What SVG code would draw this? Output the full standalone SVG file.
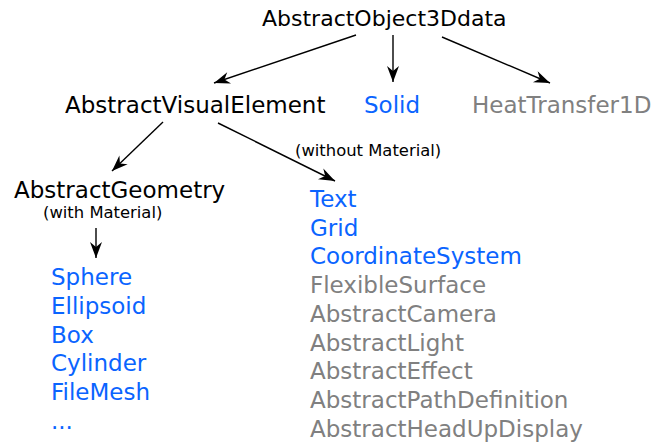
<svg xmlns="http://www.w3.org/2000/svg" width="661" height="447" viewBox="0 0 661 447">
<defs>
<style>
text{font-family:"DejaVu Sans",sans-serif;}
.top{font-size:22px;fill:#000;}
.big{font-size:23px;fill:#000;}
.blue{font-size:23px;fill:#0a64ff;}
.gray{font-size:23px;fill:#808080;}
.small{font-size:16.4px;fill:#000;}
.edge{stroke:#000;stroke-width:1.4;fill:none;marker-end:url(#arr);}
</style>
<marker id="arr" markerUnits="userSpaceOnUse" markerWidth="20" markerHeight="14" viewBox="-16 -7 18 14" refX="0" refY="0" orient="auto">
<path d="M0,0 L-16,-6 L-11,0 L-16,6 Z" fill="#000"/>
</marker>
</defs>
<rect width="661" height="447" fill="#fff"/>
<g id="connectors">
<line class="edge" x1="356" y1="35" x2="214" y2="83"/>
<line class="edge" x1="393" y1="35" x2="393" y2="82"/>
<line class="edge" x1="442" y1="37" x2="550" y2="83"/>
<line class="edge" x1="163" y1="122" x2="112" y2="171"/>
<line class="edge" x1="218" y1="123" x2="335" y2="181"/>
<line class="edge" x1="96" y1="228" x2="96" y2="258"/>
</g>
<g id="AbstractObject3Ddata"><text class="top" x="262" y="26">AbstractObject3Ddata</text></g>
<g id="AbstractVisualElement"><text class="big" x="65" y="113">AbstractVisualElement</text></g>
<g id="Solid"><text class="blue" x="364" y="113">Solid</text></g>
<g id="HeatTransfer1D"><text class="gray" x="472" y="113">HeatTransfer1D</text></g>
<g id="AbstractGeometry">
<text class="big" x="14" y="198">AbstractGeometry</text>
<text class="small" x="43" y="218">(with Material)</text>
</g>
<g id="withoutMaterial"><text class="small" x="295" y="156">(without Material)</text></g>
<g id="geometryList">
<text class="blue" x="51" y="285">Sphere</text>
<text class="blue" x="51" y="313.75">Ellipsoid</text>
<text class="blue" x="51" y="342.5">Box</text>
<text class="blue" x="51" y="371.25">Cylinder</text>
<text class="blue" x="51" y="400">FileMesh</text>
<text class="blue" x="51" y="428.75">...</text>
</g>
<g id="visualList">
<text class="blue" x="310" y="207">Text</text>
<text class="blue" x="310" y="235.7">Grid</text>
<text class="blue" x="310" y="264.4">CoordinateSystem</text>
<text class="gray" x="310" y="293.1">FlexibleSurface</text>
<text class="gray" x="310" y="321.8">AbstractCamera</text>
<text class="gray" x="310" y="350.5">AbstractLight</text>
<text class="gray" x="310" y="379.2">AbstractEffect</text>
<text class="gray" x="310" y="407.9">AbstractPathDefinition</text>
<text class="gray" x="310" y="436.6">AbstractHeadUpDisplay</text>
</g>
</svg>
